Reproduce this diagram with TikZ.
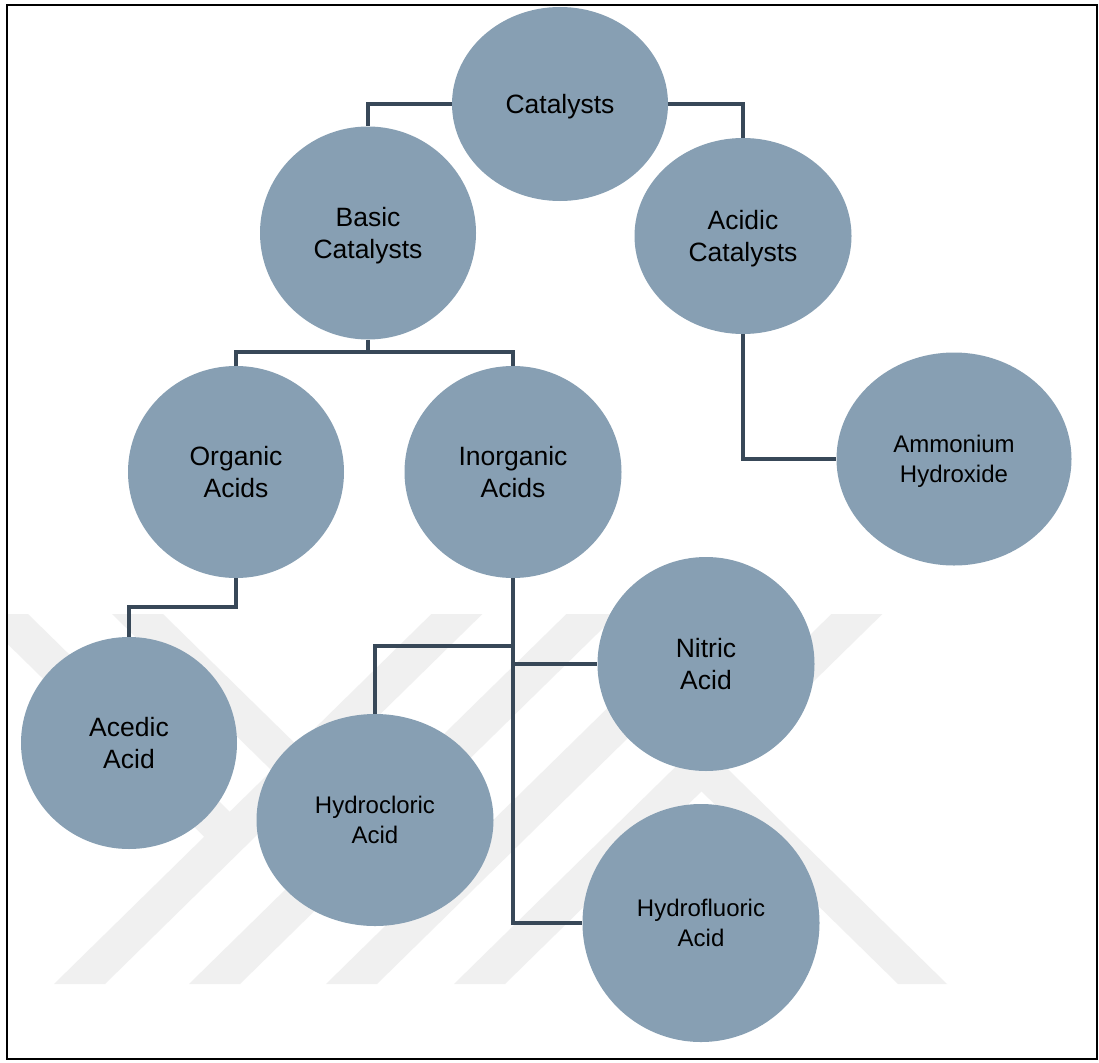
\documentclass[tikz,border=0pt]{standalone}
\usepackage{fontspec}
\setmainfont{Liberation Sans}
\usetikzlibrary{shapes.geometric}

\definecolor{bubble}{RGB}{135,159,179}
\definecolor{wire}{RGB}{56,72,88}
\definecolor{mark}{RGB}{240,240,240}

\tikzset{
  bubble/.style={ellipse, fill=bubble, draw=none, inner sep=0pt, align=center,
                 text=black, text depth=0pt, font=\fontsize{26.5}{32}\selectfont},
  smalltext/.style={font=\fontsize{24}{29.5}\selectfont},
  wire/.style={draw=wire, line width=3.4pt, line join=miter},
  stripe/.style={fill=mark, draw=none}
}

\begin{document}
\begin{tikzpicture}[x=1pt, y=-1pt]
  \useasboundingbox (0,0) rectangle (1099,1062);
  \fill[white] (0,0) rectangle (1099,1062);

  % faint background emblem
  \begin{scope}
    \clip (8,6) rectangle (1096,1058);
    \foreach \b in {54,189,326,454}
      \fill[stripe] (\b,984) -- ++(51,0) -- ++(377.4,-370) -- ++(-51,0) -- cycle;
    \fill[stripe] (-23,614) -- (28,614) -- (255.3,836.8) -- (204.3,836.8) -- cycle;
    \fill[stripe] (112,614) -- (163,614) -- (390.3,836.8) -- (339.3,836.8) -- cycle;
    \fill[stripe] (676,766.4) -- (700.5,742.3) -- (947,984) -- (898,984) -- cycle;
  \end{scope}

  % frame
  \draw[black, line width=2pt] (7,5) rectangle (1097,1059);

  % nodes
  \node[bubble, minimum width=216pt, minimum height=194pt] (cat)   at (560,104) {Catalysts};
  \node[bubble, minimum width=216pt, minimum height=213pt] (basic) at (368,233) {Basic\\Catalysts};
  \node[bubble, minimum width=217pt, minimum height=196pt] (acid)  at (743,236) {Acidic\\Catalysts};
  \node[bubble, minimum width=216pt, minimum height=212pt] (org)   at (236,472) {Organic\\Acids};
  \node[bubble, minimum width=217pt, minimum height=212pt] (inorg) at (513,472) {Inorganic\\Acids};
  \node[bubble, smalltext, minimum width=235pt, minimum height=213pt] (amm) at (954,459) {Ammonium\\Hydroxide};
  \node[bubble, minimum width=216pt, minimum height=212pt] (acedic) at (129,743) {Acedic\\Acid};
  \node[bubble, smalltext, minimum width=237pt, minimum height=212pt] (hcl) at (375,820) {Hydrocloric\\Acid};
  \node[bubble, minimum width=217pt, minimum height=214pt] (nit)   at (706,664) {Nitric\\Acid};
  \node[bubble, smalltext, minimum width=237pt, minimum height=238pt] (hf) at (701,923) {Hydrofluoric\\Acid};

  % junction points
  \coordinate (bj) at (368,352);
  \coordinate (oj) at (236,607);
  \coordinate (ij) at (513,646);
  \path (inorg.south |- nit.west) coordinate (nj);

  % connectors
  \draw[wire] (cat.west) -| (basic.north);
  \draw[wire] (cat.east) -| (acid.north);
  \draw[wire] (basic.south) -- (bj);
  \draw[wire] (org.north) |- (bj) -| (inorg.north);
  \draw[wire] (acid.south) |- (amm.west);
  \draw[wire] (org.south) -- (oj) -| (acedic.north);
  \draw[wire] (inorg.south) |- (hf.west);
  \draw[wire] (ij) -| (hcl.north);
  \draw[wire] (nj) -- (nit.west);
\end{tikzpicture}
\end{document}
